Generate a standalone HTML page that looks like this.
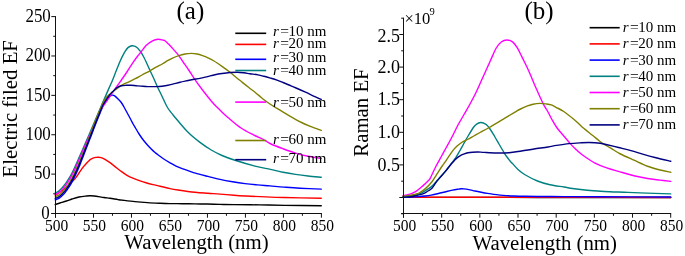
<!DOCTYPE html>
<html><head><meta charset="utf-8"><style>
html,body{margin:0;padding:0;background:#fff;}
svg{display:block;will-change:transform;}
text{font-family:'Liberation Serif',serif;fill:#000;}
.ty{font-size:18px;}
.tx{font-size:16.5px;}
.tt{font-size:20.8px;}
.pl{font-size:25px;}
.ex{font-size:16.5px;}
.sup{font-size:10.5px;}
.lg{font-size:15px;}
.cv path{fill:none;stroke-width:1.4;stroke-linejoin:round;stroke-linecap:round;}
</style></head><body>
<svg width="685" height="256" viewBox="0 0 685 256">
<g class="cv">
<path d="M55.25,204.50 C56.04,204.25 58.12,203.58 60.00,203.00 C61.88,202.42 64.50,201.67 66.50,201.00 C68.50,200.33 69.92,199.67 72.00,199.00 C74.08,198.33 76.58,197.50 79.00,197.00 C81.42,196.50 84.67,196.20 86.50,196.00 C88.33,195.80 88.75,195.80 90.00,195.80 C91.25,195.80 91.67,195.72 94.00,196.00 C96.33,196.28 101.33,197.12 104.00,197.50 C106.67,197.88 107.67,197.95 110.00,198.30 C112.33,198.65 115.92,199.28 118.00,199.60 C120.08,199.92 119.67,199.87 122.50,200.20 C125.33,200.53 130.83,201.20 135.00,201.60 C139.17,202.00 143.33,202.32 147.50,202.60 C151.67,202.88 156.25,203.08 160.00,203.25 C163.75,203.42 166.25,203.53 170.00,203.60 C173.75,203.67 178.33,203.65 182.50,203.70 C186.67,203.75 190.83,203.85 195.00,203.90 C199.17,203.95 203.33,203.92 207.50,204.00 C211.67,204.08 215.58,204.30 220.00,204.40 C224.42,204.50 227.33,204.52 234.00,204.60 C240.67,204.68 251.50,204.77 260.00,204.90 C268.50,205.03 274.79,205.26 285.00,205.40 C295.21,205.54 315.21,205.69 321.25,205.75" stroke="#000000"/>
<path d="M55.25,195.20 C55.71,194.93 57.21,194.08 58.00,193.60 C58.79,193.12 59.17,192.90 60.00,192.30 C60.83,191.70 62.00,190.83 63.00,190.00 C64.00,189.17 65.00,188.22 66.00,187.30 C67.00,186.38 68.08,185.37 69.00,184.50 C69.92,183.63 70.71,182.83 71.50,182.10 C72.29,181.37 73.12,180.72 73.75,180.10 C74.38,179.48 74.71,179.15 75.30,178.40 C75.89,177.65 76.62,176.62 77.30,175.60 C77.98,174.58 78.62,173.47 79.40,172.30 C80.18,171.13 81.22,169.63 82.00,168.60 C82.78,167.57 83.30,167.00 84.05,166.10 C84.80,165.20 85.72,164.07 86.50,163.20 C87.28,162.33 88.00,161.57 88.75,160.90 C89.50,160.23 90.29,159.65 91.00,159.20 C91.71,158.75 92.17,158.50 93.00,158.20 C93.83,157.90 95.08,157.57 96.00,157.40 C96.92,157.23 97.67,157.17 98.50,157.20 C99.33,157.23 100.08,157.32 101.00,157.60 C101.92,157.88 102.75,158.22 104.00,158.90 C105.25,159.58 106.87,160.58 108.50,161.70 C110.13,162.82 111.72,164.02 113.80,165.60 C115.88,167.18 118.80,169.58 121.00,171.20 C123.20,172.82 124.92,174.10 127.00,175.30 C129.08,176.50 131.33,177.48 133.50,178.40 C135.67,179.32 137.92,180.08 140.00,180.80 C142.08,181.53 143.83,182.12 146.00,182.75 C148.17,183.38 150.67,184.03 153.00,184.60 C155.33,185.17 157.17,185.53 160.00,186.20 C162.83,186.87 167.00,187.97 170.00,188.60 C173.00,189.23 173.83,189.38 178.00,190.00 C182.17,190.62 190.00,191.75 195.00,192.30 C200.00,192.85 203.83,193.00 208.00,193.30 C212.17,193.60 215.67,193.77 220.00,194.10 C224.33,194.43 229.83,194.98 234.00,195.30 C238.17,195.62 240.67,195.78 245.00,196.00 C249.33,196.22 253.50,196.35 260.00,196.60 C266.50,196.85 273.79,197.22 284.00,197.50 C294.21,197.78 315.04,198.12 321.25,198.25" stroke="#ff0000"/>
<path d="M55.25,199.90 C55.58,199.78 56.58,199.47 57.25,199.18 C57.92,198.89 58.58,198.60 59.25,198.17 C59.92,197.73 60.58,197.16 61.25,196.56 C61.92,195.96 62.58,195.27 63.25,194.57 C63.92,193.86 64.58,193.17 65.25,192.34 C65.92,191.51 66.58,190.54 67.25,189.59 C67.92,188.63 68.58,187.67 69.25,186.63 C69.92,185.58 70.58,184.49 71.25,183.32 C71.92,182.15 72.58,180.90 73.25,179.59 C73.92,178.29 74.58,176.90 75.25,175.48 C75.92,174.06 76.58,172.58 77.25,171.08 C77.92,169.59 78.58,168.13 79.25,166.51 C79.92,164.88 80.58,163.05 81.25,161.32 C81.92,159.59 82.58,157.86 83.25,156.14 C83.92,154.41 84.58,152.68 85.25,150.95 C85.92,149.22 86.58,147.48 87.25,145.76 C87.92,144.03 88.58,142.33 89.25,140.61 C89.92,138.88 90.58,137.14 91.25,135.41 C91.92,133.67 92.58,131.91 93.25,130.18 C93.92,128.44 94.58,126.67 95.25,124.98 C95.92,123.28 96.58,121.65 97.25,119.99 C97.92,118.33 98.58,116.65 99.25,115.00 C99.92,113.35 100.62,111.59 101.25,110.10 C101.88,108.61 102.38,107.32 103.00,106.04 C103.62,104.76 104.33,103.51 105.00,102.40 C105.67,101.29 106.33,100.32 107.00,99.40 C107.67,98.48 108.42,97.52 109.00,96.90 C109.58,96.28 110.00,96.00 110.50,95.70 C111.00,95.40 111.45,95.15 112.00,95.10 C112.55,95.05 113.20,95.15 113.80,95.40 C114.40,95.65 114.90,96.00 115.60,96.60 C116.30,97.20 117.06,98.02 118.00,99.00 C118.94,99.98 120.25,101.17 121.25,102.50 C122.25,103.83 122.96,105.17 124.00,107.00 C125.04,108.83 126.42,111.50 127.50,113.50 C128.58,115.50 129.57,117.25 130.50,119.00 C131.43,120.75 132.27,122.50 133.10,124.00 C133.93,125.50 134.56,126.42 135.50,128.00 C136.44,129.58 137.58,131.67 138.75,133.50 C139.92,135.33 141.12,137.17 142.50,139.00 C143.88,140.83 145.54,142.83 147.00,144.50 C148.46,146.17 149.92,147.67 151.25,149.00 C152.58,150.33 153.88,151.54 155.00,152.50 C156.12,153.46 156.67,153.75 158.00,154.75 C159.33,155.75 160.92,157.11 163.00,158.50 C165.08,159.89 168.33,161.83 170.50,163.10 C172.67,164.37 173.92,165.13 176.00,166.10 C178.08,167.07 180.67,168.02 183.00,168.90 C185.33,169.78 187.92,170.68 190.00,171.40 C192.08,172.12 192.50,172.37 195.50,173.20 C198.50,174.03 203.92,175.37 208.00,176.40 C212.08,177.43 215.92,178.51 220.00,179.40 C224.08,180.29 228.33,181.05 232.50,181.75 C236.67,182.45 240.83,183.07 245.00,183.60 C249.17,184.12 253.33,184.52 257.50,184.90 C261.67,185.28 265.58,185.53 270.00,185.90 C274.42,186.27 279.00,186.72 284.00,187.10 C289.00,187.48 293.79,187.87 300.00,188.20 C306.21,188.53 317.71,188.95 321.25,189.10" stroke="#0000ff"/>
<path d="M55.25,192.90 C55.46,192.80 55.96,192.57 56.50,192.30 C57.04,192.03 57.83,191.75 58.50,191.30 C59.17,190.85 59.80,190.28 60.50,189.60 C61.20,188.92 61.87,188.18 62.70,187.20 C63.53,186.22 64.72,184.77 65.50,183.70 C66.28,182.63 66.67,181.95 67.40,180.80 C68.13,179.65 69.05,178.27 69.90,176.80 C70.75,175.33 71.65,173.67 72.50,172.00 C73.35,170.33 74.17,168.60 75.00,166.80 C75.83,165.00 76.63,163.17 77.50,161.20 C78.37,159.23 78.95,157.87 80.20,155.00 C81.45,152.13 83.37,147.75 85.00,144.00 C86.63,140.25 88.33,136.37 90.00,132.50 C91.67,128.63 93.33,124.72 95.00,120.80 C96.67,116.88 98.33,112.90 100.00,109.00 C101.67,105.10 103.50,100.88 105.00,97.40 C106.50,93.92 107.75,90.97 109.00,88.10 C110.25,85.23 111.33,83.00 112.50,80.20 C113.67,77.40 114.75,74.42 116.00,71.30 C117.25,68.18 118.83,64.18 120.00,61.50 C121.17,58.82 122.17,56.85 123.00,55.20 C123.83,53.55 124.17,52.87 125.00,51.60 C125.83,50.33 126.85,48.57 128.00,47.60 C129.15,46.63 130.82,46.05 131.90,45.80 C132.98,45.55 133.67,45.82 134.50,46.10 C135.33,46.38 136.15,46.90 136.90,47.50 C137.65,48.10 138.28,48.85 139.00,49.70 C139.72,50.55 140.42,51.30 141.25,52.60 C142.08,53.90 143.14,55.85 144.00,57.50 C144.86,59.15 145.36,60.25 146.40,62.50 C147.44,64.75 148.98,68.25 150.25,71.00 C151.52,73.75 152.79,76.33 154.00,79.00 C155.21,81.67 156.18,84.17 157.50,87.00 C158.82,89.83 160.23,92.58 161.90,96.00 C163.57,99.42 165.22,103.83 167.50,107.50 C169.78,111.17 172.27,113.96 175.60,118.00 C178.93,122.04 183.43,127.68 187.50,131.75 C191.57,135.82 196.04,139.36 200.00,142.40 C203.96,145.44 207.58,147.82 211.25,150.00 C214.92,152.18 218.04,153.79 222.00,155.50 C225.96,157.21 229.50,158.48 235.00,160.25 C240.50,162.02 249.08,164.57 255.00,166.10 C260.92,167.62 265.83,168.38 270.50,169.40 C275.17,170.43 278.83,171.42 283.00,172.25 C287.17,173.08 291.33,173.78 295.50,174.40 C299.67,175.03 303.71,175.53 308.00,176.00 C312.29,176.47 319.04,177.04 321.25,177.25" stroke="#008080"/>
<path d="M55.25,194.51 C55.58,194.36 56.58,193.95 57.25,193.59 C57.92,193.24 58.58,192.89 59.25,192.39 C59.92,191.88 60.58,191.24 61.25,190.57 C61.92,189.90 62.58,189.14 63.25,188.37 C63.92,187.59 64.58,186.82 65.25,185.93 C65.92,185.03 66.58,184.01 67.25,183.00 C67.92,181.99 68.58,180.96 69.25,179.86 C69.92,178.76 70.58,177.60 71.25,176.38 C71.92,175.16 72.58,173.88 73.25,172.55 C73.92,171.21 74.58,169.81 75.25,168.37 C75.92,166.92 76.58,165.41 77.25,163.90 C77.92,162.40 78.58,160.88 79.25,159.33 C79.92,157.78 80.58,156.18 81.25,154.60 C81.92,153.03 82.58,151.45 83.25,149.88 C83.92,148.31 84.58,146.72 85.25,145.16 C85.92,143.59 86.58,141.98 87.25,140.47 C87.92,138.96 88.58,137.57 89.25,136.09 C89.92,134.61 90.58,133.11 91.25,131.60 C91.92,130.09 92.58,128.56 93.25,127.02 C93.92,125.48 94.58,123.94 95.25,122.35 C95.92,120.77 96.79,118.62 97.25,117.52 C97.71,116.41 97.17,117.35 98.00,115.70 C98.83,114.05 101.03,109.62 102.20,107.60 C103.37,105.58 103.87,105.23 105.00,103.60 C106.13,101.97 107.75,99.62 109.00,97.80 C110.25,95.98 111.38,94.33 112.50,92.70 C113.62,91.07 114.27,90.12 115.75,88.00 C117.23,85.88 119.54,82.67 121.40,80.00 C123.26,77.33 124.95,74.95 126.90,72.00 C128.85,69.05 131.29,64.97 133.10,62.30 C134.91,59.63 136.50,57.63 137.75,56.00 C139.00,54.37 139.18,54.28 140.60,52.50 C142.02,50.72 144.27,47.25 146.25,45.30 C148.23,43.35 150.53,41.82 152.50,40.80 C154.47,39.78 156.35,39.32 158.10,39.20 C159.85,39.08 161.85,39.83 163.00,40.10 C164.15,40.37 164.04,40.10 165.00,40.80 C165.96,41.50 167.58,43.13 168.75,44.30 C169.92,45.47 170.33,45.92 172.00,47.80 C173.67,49.68 176.90,53.23 178.75,55.60 C180.60,57.97 181.39,59.52 183.10,62.00 C184.81,64.48 187.06,67.60 189.00,70.50 C190.94,73.40 192.50,76.15 194.75,79.40 C197.00,82.65 199.54,86.15 202.50,90.00 C205.46,93.85 209.93,99.50 212.50,102.50 C215.07,105.50 216.33,106.42 217.90,108.00 C219.47,109.58 220.13,110.33 221.90,112.00 C223.67,113.67 225.32,115.33 228.50,118.00 C231.68,120.67 236.83,125.18 241.00,128.00 C245.17,130.82 249.85,133.03 253.50,134.90 C257.15,136.78 260.07,137.78 262.90,139.25 C265.73,140.72 267.15,142.17 270.50,143.75 C273.85,145.33 278.83,147.19 283.00,148.75 C287.17,150.31 291.33,151.85 295.50,153.10 C299.67,154.35 303.71,155.37 308.00,156.25 C312.29,157.13 319.04,158.04 321.25,158.40" stroke="#ff00ff"/>
<path d="M55.25,196.82 C55.58,196.68 56.58,196.31 57.25,195.99 C57.92,195.66 58.58,195.34 59.25,194.87 C59.92,194.39 60.58,193.78 61.25,193.14 C61.92,192.50 62.58,191.77 63.25,191.02 C63.92,190.28 64.58,189.54 65.25,188.68 C65.92,187.81 66.58,186.81 67.25,185.82 C67.92,184.83 68.58,183.84 69.25,182.76 C69.92,181.68 70.58,180.55 71.25,179.36 C71.92,178.16 72.58,176.89 73.25,175.57 C73.92,174.24 74.58,172.84 75.25,171.41 C75.92,169.98 76.58,168.48 77.25,166.98 C77.92,165.48 78.58,163.99 79.25,162.40 C79.92,160.82 80.58,159.12 81.25,157.48 C81.92,155.84 82.58,154.20 83.25,152.56 C83.92,150.92 84.58,149.29 85.25,147.64 C85.92,145.98 86.58,144.38 87.25,142.63 C87.92,140.88 88.58,138.97 89.25,137.15 C89.92,135.34 90.58,133.52 91.25,131.73 C91.92,129.93 92.58,128.13 93.25,126.37 C93.92,124.61 94.58,122.83 95.25,121.16 C95.92,119.50 96.58,117.98 97.25,116.39 C97.92,114.80 98.58,113.20 99.25,111.62 C99.92,110.03 100.62,108.36 101.25,106.90 C101.88,105.44 102.38,104.07 103.00,102.84 C103.62,101.61 104.33,100.51 105.00,99.50 C105.67,98.49 106.25,97.67 107.00,96.80 C107.75,95.93 108.67,95.03 109.50,94.30 C110.33,93.57 111.17,93.07 112.00,92.40 C112.83,91.73 113.57,91.02 114.50,90.30 C115.43,89.58 116.14,89.08 117.60,88.10 C119.06,87.12 121.37,85.43 123.25,84.40 C125.13,83.37 126.90,82.85 128.90,81.90 C130.90,80.95 133.07,79.85 135.25,78.70 C137.43,77.55 139.54,76.32 142.00,75.00 C144.46,73.68 147.67,72.10 150.00,70.80 C152.33,69.50 153.96,68.33 156.00,67.20 C158.04,66.07 160.25,65.13 162.25,64.00 C164.25,62.87 166.38,61.35 168.00,60.40 C169.62,59.45 170.21,59.10 172.00,58.30 C173.79,57.50 176.58,56.32 178.75,55.60 C180.92,54.88 182.92,54.37 185.00,54.00 C187.08,53.63 189.25,53.40 191.25,53.40 C193.25,53.40 195.12,53.63 197.00,54.00 C198.88,54.37 200.67,54.97 202.50,55.60 C204.33,56.23 206.08,56.90 208.00,57.80 C209.92,58.70 211.67,59.57 214.00,61.00 C216.33,62.43 219.33,64.53 222.00,66.40 C224.67,68.28 227.67,70.44 230.00,72.25 C232.33,74.06 234.02,75.62 236.00,77.25 C237.98,78.88 239.82,80.33 241.90,82.00 C243.98,83.67 246.32,85.55 248.50,87.25 C250.68,88.95 252.92,90.53 255.00,92.20 C257.08,93.87 259.50,96.00 261.00,97.25 C262.50,98.50 262.50,98.58 264.00,99.70 C265.50,100.83 267.92,102.60 270.00,104.00 C272.08,105.40 273.33,106.17 276.50,108.10 C279.67,110.03 284.83,113.20 289.00,115.60 C293.17,118.00 297.83,120.65 301.50,122.50 C305.17,124.35 307.71,125.38 311.00,126.70 C314.29,128.02 319.54,129.78 321.25,130.40" stroke="#808000"/>
<path d="M55.25,198.43 C55.58,198.30 56.58,197.96 57.25,197.65 C57.92,197.35 58.58,197.05 59.25,196.59 C59.92,196.14 60.58,195.54 61.25,194.92 C61.92,194.30 62.58,193.60 63.25,192.88 C63.92,192.15 64.58,191.44 65.25,190.59 C65.92,189.74 66.58,188.76 67.25,187.79 C67.92,186.82 68.58,185.84 69.25,184.78 C69.92,183.72 70.58,182.61 71.25,181.43 C71.92,180.24 72.58,178.99 73.25,177.67 C73.92,176.36 74.58,174.96 75.25,173.54 C75.92,172.11 76.58,170.63 77.25,169.13 C77.92,167.63 78.58,166.15 79.25,164.55 C79.92,162.94 80.58,161.17 81.25,159.49 C81.92,157.80 82.58,156.12 83.25,154.43 C83.92,152.74 84.58,151.06 85.25,149.37 C85.92,147.68 86.58,145.99 87.25,144.29 C87.92,142.60 88.58,140.90 89.25,139.19 C89.92,137.49 90.58,135.77 91.25,134.06 C91.92,132.34 92.58,130.61 93.25,128.90 C93.92,127.19 94.58,125.46 95.25,123.78 C95.92,122.11 96.58,120.50 97.25,118.86 C97.92,117.22 98.58,115.57 99.25,113.94 C99.92,112.32 100.62,110.58 101.25,109.10 C101.88,107.62 102.38,106.27 103.00,105.04 C103.62,103.81 104.33,102.77 105.00,101.70 C105.67,100.63 106.33,99.57 107.00,98.60 C107.67,97.63 108.33,96.77 109.00,95.90 C109.67,95.03 110.42,94.08 111.00,93.40 C111.58,92.72 111.92,92.38 112.50,91.80 C113.08,91.22 113.80,90.57 114.50,89.90 C115.20,89.23 115.55,88.48 116.70,87.80 C117.85,87.12 119.85,86.22 121.40,85.80 C122.95,85.38 124.40,85.38 126.00,85.30 C127.60,85.22 129.33,85.23 131.00,85.30 C132.67,85.37 134.33,85.57 136.00,85.70 C137.67,85.83 139.00,85.95 141.00,86.10 C143.00,86.25 145.42,86.52 148.00,86.60 C150.58,86.68 154.17,86.67 156.50,86.60 C158.83,86.53 160.08,86.42 162.00,86.20 C163.92,85.98 166.08,85.68 168.00,85.30 C169.92,84.92 171.50,84.42 173.50,83.90 C175.50,83.38 177.92,82.70 180.00,82.20 C182.08,81.70 183.83,81.35 186.00,80.90 C188.17,80.45 190.67,79.92 193.00,79.50 C195.33,79.08 197.58,78.88 200.00,78.40 C202.42,77.92 205.00,77.21 207.50,76.60 C210.00,75.99 212.58,75.27 215.00,74.75 C217.42,74.23 219.50,73.88 222.00,73.50 C224.50,73.12 227.42,72.72 230.00,72.50 C232.58,72.28 235.17,72.15 237.50,72.20 C239.83,72.25 241.92,72.54 244.00,72.80 C246.08,73.06 247.67,73.40 250.00,73.75 C252.33,74.10 255.67,74.48 258.00,74.90 C260.33,75.33 261.92,75.77 264.00,76.30 C266.08,76.83 268.33,77.47 270.50,78.10 C272.67,78.73 274.92,79.37 277.00,80.10 C279.08,80.83 281.00,81.68 283.00,82.50 C285.00,83.32 286.92,84.12 289.00,85.00 C291.08,85.88 292.75,86.55 295.50,87.75 C298.25,88.95 302.58,90.86 305.50,92.20 C308.42,93.54 310.38,94.58 313.00,95.80 C315.62,97.02 319.88,98.88 321.25,99.50" stroke="#000080"/>

<path d="M403.00,197.40 C419.17,197.40 467.17,197.38 500.00,197.40 C532.83,197.42 571.54,197.48 600.00,197.50 C628.46,197.52 658.96,197.50 670.75,197.50" stroke="#000000"/>
<path d="M403.00,197.30 C419.17,197.30 467.17,197.28 500.00,197.30 C532.83,197.32 571.54,197.37 600.00,197.40 C628.46,197.43 658.96,197.48 670.75,197.50" stroke="#ff0000"/>
<path d="M403.00,197.20 C404.17,197.17 407.38,197.10 410.00,197.00 C412.62,196.90 416.25,196.77 418.75,196.60 C421.25,196.43 422.92,196.25 425.00,196.00 C427.08,195.75 429.17,195.47 431.25,195.10 C433.33,194.73 435.42,194.27 437.50,193.80 C439.58,193.33 441.25,192.92 443.75,192.30 C446.25,191.68 450.00,190.63 452.50,190.10 C455.00,189.57 457.29,189.32 458.75,189.10 C460.21,188.88 460.38,188.83 461.25,188.80 C462.12,188.77 462.75,188.77 464.00,188.90 C465.25,189.03 466.92,189.25 468.75,189.60 C470.58,189.95 472.92,190.56 475.00,191.00 C477.08,191.44 479.17,191.85 481.25,192.25 C483.33,192.65 485.42,193.04 487.50,193.40 C489.58,193.76 491.67,194.12 493.75,194.40 C495.83,194.68 497.92,194.90 500.00,195.10 C502.08,195.30 503.92,195.45 506.25,195.60 C508.58,195.75 510.88,195.88 514.00,196.00 C517.12,196.12 519.83,196.22 525.00,196.30 C530.17,196.38 538.50,196.45 545.00,196.50 C551.50,196.55 554.83,196.55 564.00,196.60 C573.17,196.65 582.21,196.73 600.00,196.80 C617.79,196.87 658.96,196.97 670.75,197.00" stroke="#0000ff"/>
<path d="M403.00,196.80 C404.17,196.70 407.83,196.53 410.00,196.20 C412.17,195.87 413.96,195.40 416.00,194.80 C418.04,194.20 420.42,193.47 422.25,192.60 C424.08,191.73 425.38,190.68 427.00,189.60 C428.62,188.52 430.46,187.43 432.00,186.10 C433.54,184.77 434.92,183.07 436.25,181.60 C437.58,180.13 438.48,179.03 440.00,177.30 C441.52,175.57 443.47,173.55 445.40,171.20 C447.33,168.85 449.87,165.47 451.60,163.20 C453.33,160.93 454.45,159.63 455.80,157.60 C457.15,155.57 458.40,153.27 459.70,151.00 C461.00,148.73 462.20,146.50 463.60,144.00 C465.00,141.50 466.41,138.83 468.10,136.00 C469.79,133.17 472.27,129.03 473.75,127.00 C475.23,124.97 475.86,124.55 477.00,123.80 C478.14,123.05 479.52,122.63 480.60,122.50 C481.68,122.37 482.56,122.65 483.50,123.00 C484.44,123.35 485.17,123.60 486.25,124.60 C487.33,125.60 488.64,127.10 490.00,129.00 C491.36,130.90 492.90,133.50 494.40,136.00 C495.90,138.50 497.40,141.25 499.00,144.00 C500.60,146.75 502.79,150.50 504.00,152.50 C505.21,154.50 505.10,154.42 506.25,156.00 C507.40,157.58 509.86,160.75 510.90,162.00 C511.94,163.25 511.32,162.25 512.50,163.50 C513.68,164.75 515.92,167.62 518.00,169.50 C520.08,171.38 521.75,172.83 525.00,174.75 C528.25,176.67 533.33,179.33 537.50,181.00 C541.67,182.67 545.58,183.75 550.00,184.75 C554.42,185.75 560.25,186.38 564.00,187.00 C567.75,187.62 569.00,188.00 572.50,188.50 C576.00,189.00 580.83,189.58 585.00,190.00 C589.17,190.42 593.33,190.71 597.50,191.00 C601.67,191.29 605.58,191.54 610.00,191.75 C614.42,191.96 619.00,192.06 624.00,192.25 C629.00,192.44 632.21,192.62 640.00,192.90 C647.79,193.18 665.62,193.73 670.75,193.90" stroke="#008080"/>
<path d="M403.00,195.60 C404.17,195.37 407.83,194.90 410.00,194.20 C412.17,193.50 413.96,192.70 416.00,191.40 C418.04,190.10 420.17,188.22 422.25,186.40 C424.33,184.58 427.14,181.93 428.50,180.50 C429.86,179.07 429.15,180.17 430.40,177.80 C431.65,175.43 434.13,169.93 436.00,166.30 C437.87,162.67 439.93,159.05 441.60,156.00 C443.27,152.95 444.18,151.33 446.00,148.00 C447.82,144.67 450.50,139.83 452.50,136.00 C454.50,132.17 456.08,128.58 458.00,125.00 C459.92,121.42 462.00,118.00 464.00,114.50 C466.00,111.00 467.96,107.75 470.00,104.00 C472.04,100.25 474.08,96.50 476.25,92.00 C478.42,87.50 480.71,82.08 483.00,77.00 C485.29,71.92 487.79,66.33 490.00,61.50 C492.21,56.67 494.38,51.25 496.25,48.00 C498.12,44.75 499.48,43.33 501.25,42.00 C503.02,40.67 505.02,40.02 506.90,40.00 C508.77,39.98 510.73,40.55 512.50,41.90 C514.27,43.25 516.08,45.92 517.50,48.10 C518.92,50.28 519.96,52.93 521.00,55.00 C522.04,57.07 522.42,57.75 523.75,60.50 C525.08,63.25 526.96,66.92 529.00,71.50 C531.04,76.08 533.65,82.65 536.00,88.00 C538.35,93.35 541.10,99.60 543.10,103.60 C545.10,107.60 546.53,109.35 548.00,112.00 C549.47,114.65 550.38,116.83 551.90,119.50 C553.42,122.17 555.18,125.33 557.10,128.00 C559.02,130.67 561.21,132.90 563.40,135.50 C565.59,138.10 568.15,141.27 570.25,143.60 C572.35,145.93 573.96,147.60 576.00,149.50 C578.04,151.40 579.33,152.73 582.50,155.00 C585.67,157.27 590.83,160.92 595.00,163.10 C599.17,165.28 602.92,166.53 607.50,168.10 C612.08,169.67 617.92,171.18 622.50,172.50 C627.08,173.82 630.83,175.00 635.00,176.00 C639.17,177.00 643.33,177.82 647.50,178.50 C651.67,179.18 656.12,179.62 660.00,180.10 C663.88,180.58 668.96,181.18 670.75,181.40" stroke="#ff00ff"/>
<path d="M403.00,196.30 C404.17,196.17 408.00,195.83 410.00,195.50 C412.00,195.17 413.48,194.72 415.00,194.30 C416.52,193.88 417.37,193.95 419.10,193.00 C420.83,192.05 423.25,190.47 425.40,188.60 C427.55,186.72 430.23,183.92 432.00,181.75 C433.77,179.58 434.92,177.29 436.00,175.60 C437.08,173.91 437.47,173.20 438.50,171.60 C439.53,170.00 441.12,167.57 442.20,166.00 C443.28,164.43 443.95,163.73 445.00,162.20 C446.05,160.67 446.96,159.02 448.50,156.80 C450.04,154.58 452.67,150.83 454.25,148.90 C455.83,146.97 456.64,146.35 458.00,145.20 C459.36,144.05 460.82,142.95 462.40,142.00 C463.98,141.05 465.61,140.50 467.50,139.50 C469.39,138.50 471.67,137.17 473.75,136.00 C475.83,134.83 477.50,133.88 480.00,132.50 C482.50,131.12 485.00,129.90 488.75,127.75 C492.50,125.60 498.12,122.21 502.50,119.60 C506.88,116.99 512.08,113.82 515.00,112.10 C517.92,110.38 517.92,110.28 520.00,109.25 C522.08,108.22 525.33,106.74 527.50,105.90 C529.67,105.06 530.92,104.62 533.00,104.20 C535.08,103.78 537.83,103.45 540.00,103.40 C542.17,103.35 544.12,103.65 546.00,103.90 C547.88,104.15 549.58,104.33 551.25,104.90 C552.92,105.47 553.92,106.20 556.00,107.30 C558.08,108.40 560.79,109.51 563.75,111.50 C566.71,113.49 571.21,117.17 573.75,119.25 C576.29,121.33 577.29,122.46 579.00,124.00 C580.71,125.54 581.71,126.58 584.00,128.50 C586.29,130.42 590.18,133.42 592.75,135.50 C595.32,137.58 597.15,139.33 599.40,141.00 C601.65,142.67 603.86,144.00 606.25,145.50 C608.64,147.00 611.46,148.62 613.75,150.00 C616.04,151.38 616.62,152.05 620.00,153.75 C623.38,155.45 629.42,158.12 634.00,160.20 C638.58,162.28 643.17,164.62 647.50,166.25 C651.83,167.88 656.12,169.00 660.00,170.00 C663.88,171.00 668.96,171.88 670.75,172.25" stroke="#808000"/>
<path d="M403.00,197.20 C404.17,197.13 407.83,197.07 410.00,196.80 C412.17,196.53 413.75,196.13 416.00,195.60 C418.25,195.07 421.50,194.37 423.50,193.60 C425.50,192.83 426.58,191.88 428.00,191.00 C429.42,190.12 430.62,189.80 432.00,188.30 C433.38,186.80 434.92,183.78 436.25,182.00 C437.58,180.22 438.48,179.37 440.00,177.60 C441.52,175.83 443.47,173.75 445.40,171.40 C447.33,169.05 450.00,165.43 451.60,163.50 C453.20,161.57 454.03,160.78 455.00,159.80 C455.97,158.82 456.57,158.27 457.40,157.60 C458.23,156.93 458.97,156.37 460.00,155.80 C461.03,155.23 462.27,154.70 463.60,154.20 C464.93,153.70 466.52,153.13 468.00,152.80 C469.48,152.47 470.83,152.33 472.50,152.20 C474.17,152.07 476.08,151.97 478.00,152.00 C479.92,152.03 480.92,152.23 484.00,152.40 C487.08,152.57 492.33,152.94 496.50,153.00 C500.67,153.06 504.83,153.08 509.00,152.75 C513.17,152.42 517.33,151.62 521.50,151.00 C525.67,150.38 529.58,149.67 534.00,149.00 C538.42,148.33 544.25,147.60 548.00,147.00 C551.75,146.40 553.00,145.97 556.50,145.40 C560.00,144.83 564.83,144.04 569.00,143.60 C573.17,143.16 578.21,142.93 581.50,142.75 C584.79,142.57 586.50,142.51 588.75,142.50 C591.00,142.49 593.08,142.57 595.00,142.70 C596.92,142.83 598.42,143.00 600.25,143.30 C602.08,143.60 602.96,143.80 606.00,144.50 C609.04,145.20 614.33,146.48 618.50,147.50 C622.67,148.52 626.83,149.45 631.00,150.60 C635.17,151.75 639.33,153.21 643.50,154.40 C647.67,155.59 651.46,156.60 656.00,157.75 C660.54,158.90 668.29,160.71 670.75,161.30" stroke="#000080"/>

</g>
<line x1="55.50" y1="16.10" x2="55.50" y2="217.70" stroke="#111111" stroke-width="1.00"/>
<line x1="51.30" y1="213.50" x2="321.90" y2="213.50" stroke="#111111" stroke-width="1.00"/>
<line x1="51.30" y1="213.50" x2="55.50" y2="213.50" stroke="#111111" stroke-width="1.00"/>
<line x1="53.20" y1="193.81" x2="55.50" y2="193.81" stroke="#111111" stroke-width="1.00"/>
<line x1="51.30" y1="174.12" x2="55.50" y2="174.12" stroke="#111111" stroke-width="1.00"/>
<line x1="53.20" y1="154.43" x2="55.50" y2="154.43" stroke="#111111" stroke-width="1.00"/>
<line x1="51.30" y1="134.74" x2="55.50" y2="134.74" stroke="#111111" stroke-width="1.00"/>
<line x1="53.20" y1="115.05" x2="55.50" y2="115.05" stroke="#111111" stroke-width="1.00"/>
<line x1="51.30" y1="95.36" x2="55.50" y2="95.36" stroke="#111111" stroke-width="1.00"/>
<line x1="53.20" y1="75.67" x2="55.50" y2="75.67" stroke="#111111" stroke-width="1.00"/>
<line x1="51.30" y1="55.98" x2="55.50" y2="55.98" stroke="#111111" stroke-width="1.00"/>
<line x1="53.20" y1="36.29" x2="55.50" y2="36.29" stroke="#111111" stroke-width="1.00"/>
<line x1="51.30" y1="16.60" x2="55.50" y2="16.60" stroke="#111111" stroke-width="1.00"/>
<line x1="55.50" y1="213.50" x2="55.50" y2="217.70" stroke="#111111" stroke-width="1.00"/>
<line x1="74.49" y1="213.50" x2="74.49" y2="215.80" stroke="#111111" stroke-width="1.00"/>
<line x1="93.49" y1="213.50" x2="93.49" y2="217.70" stroke="#111111" stroke-width="1.00"/>
<line x1="112.48" y1="213.50" x2="112.48" y2="215.80" stroke="#111111" stroke-width="1.00"/>
<line x1="131.47" y1="213.50" x2="131.47" y2="217.70" stroke="#111111" stroke-width="1.00"/>
<line x1="150.46" y1="213.50" x2="150.46" y2="215.80" stroke="#111111" stroke-width="1.00"/>
<line x1="169.46" y1="213.50" x2="169.46" y2="217.70" stroke="#111111" stroke-width="1.00"/>
<line x1="188.45" y1="213.50" x2="188.45" y2="215.80" stroke="#111111" stroke-width="1.00"/>
<line x1="207.44" y1="213.50" x2="207.44" y2="217.70" stroke="#111111" stroke-width="1.00"/>
<line x1="226.44" y1="213.50" x2="226.44" y2="215.80" stroke="#111111" stroke-width="1.00"/>
<line x1="245.43" y1="213.50" x2="245.43" y2="217.70" stroke="#111111" stroke-width="1.00"/>
<line x1="264.42" y1="213.50" x2="264.42" y2="215.80" stroke="#111111" stroke-width="1.00"/>
<line x1="283.41" y1="213.50" x2="283.41" y2="217.70" stroke="#111111" stroke-width="1.00"/>
<line x1="302.41" y1="213.50" x2="302.41" y2="215.80" stroke="#111111" stroke-width="1.00"/>
<line x1="321.40" y1="213.50" x2="321.40" y2="217.70" stroke="#111111" stroke-width="1.00"/>

<line x1="403.50" y1="17.70" x2="403.50" y2="217.70" stroke="#111111" stroke-width="1.00"/>
<line x1="401.20" y1="213.50" x2="671.20" y2="213.50" stroke="#111111" stroke-width="1.00"/>
<line x1="401.20" y1="213.80" x2="403.50" y2="213.80" stroke="#111111" stroke-width="1.00"/>
<line x1="399.30" y1="197.50" x2="403.50" y2="197.50" stroke="#111111" stroke-width="1.00"/>
<line x1="401.20" y1="181.20" x2="403.50" y2="181.20" stroke="#111111" stroke-width="1.00"/>
<line x1="399.30" y1="164.90" x2="403.50" y2="164.90" stroke="#111111" stroke-width="1.00"/>
<line x1="401.20" y1="148.60" x2="403.50" y2="148.60" stroke="#111111" stroke-width="1.00"/>
<line x1="399.30" y1="132.30" x2="403.50" y2="132.30" stroke="#111111" stroke-width="1.00"/>
<line x1="401.20" y1="116.00" x2="403.50" y2="116.00" stroke="#111111" stroke-width="1.00"/>
<line x1="399.30" y1="99.70" x2="403.50" y2="99.70" stroke="#111111" stroke-width="1.00"/>
<line x1="401.20" y1="83.40" x2="403.50" y2="83.40" stroke="#111111" stroke-width="1.00"/>
<line x1="399.30" y1="67.10" x2="403.50" y2="67.10" stroke="#111111" stroke-width="1.00"/>
<line x1="401.20" y1="50.80" x2="403.50" y2="50.80" stroke="#111111" stroke-width="1.00"/>
<line x1="399.30" y1="34.50" x2="403.50" y2="34.50" stroke="#111111" stroke-width="1.00"/>
<line x1="401.20" y1="18.20" x2="403.50" y2="18.20" stroke="#111111" stroke-width="1.00"/>
<line x1="403.50" y1="213.50" x2="403.50" y2="217.70" stroke="#111111" stroke-width="1.00"/>
<line x1="422.59" y1="213.50" x2="422.59" y2="215.80" stroke="#111111" stroke-width="1.00"/>
<line x1="441.67" y1="213.50" x2="441.67" y2="217.70" stroke="#111111" stroke-width="1.00"/>
<line x1="460.76" y1="213.50" x2="460.76" y2="215.80" stroke="#111111" stroke-width="1.00"/>
<line x1="479.84" y1="213.50" x2="479.84" y2="217.70" stroke="#111111" stroke-width="1.00"/>
<line x1="498.93" y1="213.50" x2="498.93" y2="215.80" stroke="#111111" stroke-width="1.00"/>
<line x1="518.01" y1="213.50" x2="518.01" y2="217.70" stroke="#111111" stroke-width="1.00"/>
<line x1="537.10" y1="213.50" x2="537.10" y2="215.80" stroke="#111111" stroke-width="1.00"/>
<line x1="556.19" y1="213.50" x2="556.19" y2="217.70" stroke="#111111" stroke-width="1.00"/>
<line x1="575.27" y1="213.50" x2="575.27" y2="215.80" stroke="#111111" stroke-width="1.00"/>
<line x1="594.36" y1="213.50" x2="594.36" y2="217.70" stroke="#111111" stroke-width="1.00"/>
<line x1="613.44" y1="213.50" x2="613.44" y2="215.80" stroke="#111111" stroke-width="1.00"/>
<line x1="632.53" y1="213.50" x2="632.53" y2="217.70" stroke="#111111" stroke-width="1.00"/>
<line x1="651.61" y1="213.50" x2="651.61" y2="215.80" stroke="#111111" stroke-width="1.00"/>
<line x1="670.70" y1="213.50" x2="670.70" y2="217.70" stroke="#111111" stroke-width="1.00"/>

<line x1="235.30" y1="33.30" x2="266.20" y2="33.30" stroke="#000000" stroke-width="1.60"/>
<text x="273.0" y="36.20" class="lg"><tspan font-style="italic">r</tspan><tspan font-size="15.5" dx="1.3">=</tspan><tspan dx="-0.4">10</tspan><tspan dx="0.0"> nm</tspan></text>
<line x1="235.30" y1="44.40" x2="266.20" y2="44.40" stroke="#ff0000" stroke-width="1.60"/>
<text x="273.0" y="48.05" class="lg"><tspan font-style="italic">r</tspan><tspan font-size="15.5" dx="1.3">=</tspan><tspan dx="-0.4">20</tspan><tspan dx="0.0"> nm</tspan></text>
<line x1="235.30" y1="59.30" x2="266.20" y2="59.30" stroke="#0000ff" stroke-width="1.60"/>
<text x="273.0" y="62.20" class="lg"><tspan font-style="italic">r</tspan><tspan font-size="15.5" dx="1.3">=</tspan><tspan dx="-0.4">30</tspan><tspan dx="0.0"> nm</tspan></text>
<line x1="235.30" y1="70.50" x2="266.20" y2="70.50" stroke="#008080" stroke-width="1.60"/>
<text x="273.0" y="74.70" class="lg"><tspan font-style="italic">r</tspan><tspan font-size="15.5" dx="1.3">=</tspan><tspan dx="-0.4">40</tspan><tspan dx="0.0"> nm</tspan></text>
<line x1="235.30" y1="102.10" x2="266.20" y2="102.10" stroke="#ff00ff" stroke-width="1.60"/>
<text x="273.0" y="106.60" class="lg"><tspan font-style="italic">r</tspan><tspan font-size="15.5" dx="1.3">=</tspan><tspan dx="-0.4">50</tspan><tspan dx="0.0"> nm</tspan></text>
<line x1="235.30" y1="140.50" x2="266.20" y2="140.50" stroke="#808000" stroke-width="1.60"/>
<text x="273.0" y="143.90" class="lg"><tspan font-style="italic">r</tspan><tspan font-size="15.5" dx="1.3">=</tspan><tspan dx="-0.4">60</tspan><tspan dx="0.0"> nm</tspan></text>
<line x1="235.30" y1="159.70" x2="266.20" y2="159.70" stroke="#000080" stroke-width="1.60"/>
<text x="273.0" y="163.20" class="lg"><tspan font-style="italic">r</tspan><tspan font-size="15.5" dx="1.3">=</tspan><tspan dx="-0.4">70</tspan><tspan dx="0.0"> nm</tspan></text>
<line x1="589.60" y1="27.70" x2="619.70" y2="27.70" stroke="#000000" stroke-width="1.60"/>
<text x="622.8" y="32.20" class="lg"><tspan font-style="italic">r</tspan><tspan font-size="15.5" dx="1.3">=</tspan><tspan dx="-0.4">10</tspan><tspan dx="0.0"> nm</tspan></text>
<line x1="589.60" y1="43.90" x2="619.70" y2="43.90" stroke="#ff0000" stroke-width="1.60"/>
<text x="622.8" y="48.40" class="lg"><tspan font-style="italic">r</tspan><tspan font-size="15.5" dx="1.3">=</tspan><tspan dx="-0.4">20</tspan><tspan dx="0.0"> nm</tspan></text>
<line x1="589.60" y1="60.10" x2="619.70" y2="60.10" stroke="#0000ff" stroke-width="1.60"/>
<text x="622.8" y="64.60" class="lg"><tspan font-style="italic">r</tspan><tspan font-size="15.5" dx="1.3">=</tspan><tspan dx="-0.4">30</tspan><tspan dx="0.0"> nm</tspan></text>
<line x1="589.60" y1="76.30" x2="619.70" y2="76.30" stroke="#008080" stroke-width="1.60"/>
<text x="622.8" y="80.80" class="lg"><tspan font-style="italic">r</tspan><tspan font-size="15.5" dx="1.3">=</tspan><tspan dx="-0.4">40</tspan><tspan dx="0.0"> nm</tspan></text>
<line x1="589.60" y1="92.50" x2="619.70" y2="92.50" stroke="#ff00ff" stroke-width="1.60"/>
<text x="622.8" y="97.00" class="lg"><tspan font-style="italic">r</tspan><tspan font-size="15.5" dx="1.3">=</tspan><tspan dx="-0.4">50</tspan><tspan dx="0.0"> nm</tspan></text>
<line x1="589.60" y1="108.70" x2="619.70" y2="108.70" stroke="#808000" stroke-width="1.60"/>
<text x="622.8" y="113.20" class="lg"><tspan font-style="italic">r</tspan><tspan font-size="15.5" dx="1.3">=</tspan><tspan dx="-0.4">60</tspan><tspan dx="0.0"> nm</tspan></text>
<line x1="589.60" y1="124.90" x2="619.70" y2="124.90" stroke="#000080" stroke-width="1.60"/>
<text x="622.8" y="129.40" class="lg"><tspan font-style="italic">r</tspan><tspan font-size="15.5" dx="1.3">=</tspan><tspan dx="-0.4">70</tspan><tspan dx="0.0"> nm</tspan></text>

<text transform="translate(49.80,218.70) scale(0.940,1.040)" text-anchor="end" class="ty">0</text>
<text transform="translate(50.80,179.32) scale(0.940,1.040)" text-anchor="end" class="ty">50</text>
<text transform="translate(50.80,139.94) scale(0.940,1.040)" text-anchor="end" class="ty">100</text>
<text transform="translate(50.80,100.56) scale(0.940,1.040)" text-anchor="end" class="ty">150</text>
<text transform="translate(50.80,61.18) scale(0.940,1.040)" text-anchor="end" class="ty">200</text>
<text transform="translate(50.80,21.80) scale(0.940,1.040)" text-anchor="end" class="ty">250</text>
<text transform="translate(56.50,230.80) scale(0.940,1.040)" text-anchor="middle" class="tx">500</text>
<text transform="translate(94.49,230.80) scale(0.940,1.040)" text-anchor="middle" class="tx">550</text>
<text transform="translate(132.47,230.80) scale(0.940,1.040)" text-anchor="middle" class="tx">600</text>
<text transform="translate(170.46,230.80) scale(0.940,1.040)" text-anchor="middle" class="tx">650</text>
<text transform="translate(208.44,230.80) scale(0.940,1.040)" text-anchor="middle" class="tx">700</text>
<text transform="translate(246.43,230.80) scale(0.940,1.040)" text-anchor="middle" class="tx">750</text>
<text transform="translate(284.41,230.80) scale(0.940,1.040)" text-anchor="middle" class="tx">800</text>
<text transform="translate(322.40,230.80) scale(0.940,1.040)" text-anchor="middle" class="tx">850</text>
<text transform="translate(400.00,171.10) scale(1.000,1.040)" text-anchor="end" class="ty">0.5</text>
<text transform="translate(400.00,137.90) scale(1.000,1.040)" text-anchor="end" class="ty">1.0</text>
<text transform="translate(400.00,105.30) scale(1.000,1.040)" text-anchor="end" class="ty">1.5</text>
<text transform="translate(400.00,73.10) scale(1.000,1.040)" text-anchor="end" class="ty">2.0</text>
<text transform="translate(400.00,41.50) scale(1.000,1.040)" text-anchor="end" class="ty">2.5</text>
<text transform="translate(404.50,230.80) scale(0.940,1.040)" text-anchor="middle" class="tx">500</text>
<text transform="translate(442.67,230.80) scale(0.940,1.040)" text-anchor="middle" class="tx">550</text>
<text transform="translate(480.84,230.80) scale(0.940,1.040)" text-anchor="middle" class="tx">600</text>
<text transform="translate(519.01,230.80) scale(0.940,1.040)" text-anchor="middle" class="tx">650</text>
<text transform="translate(557.19,230.80) scale(0.940,1.040)" text-anchor="middle" class="tx">700</text>
<text transform="translate(595.36,230.80) scale(0.940,1.040)" text-anchor="middle" class="tx">750</text>
<text transform="translate(633.53,230.80) scale(0.940,1.040)" text-anchor="middle" class="tx">800</text>
<text transform="translate(671.70,230.80) scale(0.940,1.040)" text-anchor="middle" class="tx">850</text>
<text x="124.2" y="249.3" class="tt">Wavelength (nm)</text>
<text x="472.5" y="249.5" class="tt">Wavelength (nm)</text>
<text transform="translate(17.4,108.8) rotate(-90)" text-anchor="middle" class="tt">Electric filed EF</text>
<text transform="translate(367.7,112.5) rotate(-90)" text-anchor="middle" class="tt">Raman EF</text>
<text x="176.5" y="19.4" class="pl">(a)</text>
<text x="524.5" y="19.4" class="pl">(b)</text>
<text x="404.5" y="24.3" class="ex">&#215;10</text>
<text x="429.6" y="14.8" class="sup">9</text>

</svg>
</body></html>
